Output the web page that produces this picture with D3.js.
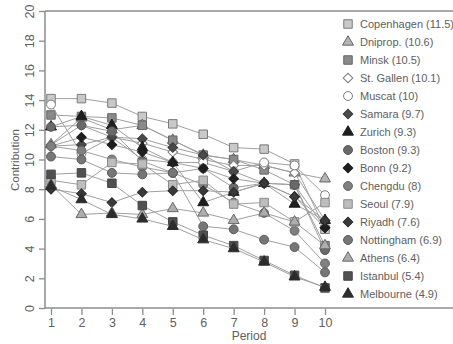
<!DOCTYPE html>
<html>
<head>
<meta charset="utf-8">
<script src="https://cdn.jsdelivr.net/npm/d3@7"></script>
<style>
  html, body { margin: 0; padding: 0; background: #fff; }
  svg { display: block; font-family: "Liberation Sans", Arial, sans-serif; }
</style>
</head>
<body>
<div id="chart"></div>
<script>
// periods on the x axis
const periods = [1, 2, 3, 4, 5, 6, 7, 8, 9, 10];
const yTicks = [0, 2, 4, 6, 8, 10, 12, 14, 16, 18, 20];

// series, in legend order (name, mean shown in legend)
const cities = ['Copenhagen', 'Dniprop.', 'Minsk', 'St. Gallen', 'Muscat', 'Samara', 'Zurich', 'Boston',
  'Bonn', 'Chengdu', 'Seoul', 'Riyadh', 'Nottingham', 'Athens', 'Istanbul', 'Melbourne'];
const means = ['11.5', '10.6', '10.5', '10.1', '10', '9.7', '9.3', '9.3', '9.2', '8', '7.9', '7.6', '6.9', '6.4', '5.4', '4.9'];

const copenhagen = [14.1, 14.1, 13.8, 12.9, 12.4, 11.7, 10.8, 10.7, 9.7, 5.3];
const dniprop    = [11.0, 12.8, 12.0, 12.3, 11.3, 10.3, 10.0, 9.6, 9.1, 8.7];
const minsk      = [13.0, 12.9, 12.8, 12.3, 11.3, 10.3, 10.0, 9.3, 8.3, 4.2];
const stGallen   = [11.0, 12.3, 11.5, 11.1, 10.5, 10.0, 9.6, 9.6, 9.1, 5.9];
const muscat     = [13.7, 10.4, 11.5, 10.0, 9.8, 9.8, 9.2, 9.8, 9.6, 7.6];
const samara     = [10.9, 11.0, 11.5, 11.4, 10.8, 10.3, 9.2, 8.4, 8.3, 5.4];
const zurich     = [12.2, 12.9, 12.3, 10.8, 9.8, 7.1, 7.8, 8.4, 7.0, 5.9];
const boston     = [12.2, 12.3, 11.9, 9.9, 9.1, 9.4, 8.1, 8.4, 8.3, 3.9];
const bonn       = [10.9, 11.5, 11.0, 10.5, 9.8, 9.4, 8.7, 8.4, 7.5, 5.4];
const chengdu    = [10.9, 10.6, 10.0, 9.5, 9.1, 8.3, 7.1, 6.4, 5.2, 3.0];
const seoul      = [8.6, 8.3, 9.8, 9.7, 8.3, 8.6, 7.0, 7.1, 5.8, 7.1];
const riyadh     = [8.0, 7.7, 7.1, 7.8, 7.9, 7.9, 7.8, 8.4, 7.5, 5.9];
const nottingham = [10.2, 10.0, 9.1, 9.0, 9.1, 5.5, 5.3, 4.6, 4.1, 2.4];
const athens     = [8.3, 6.3, 6.4, 6.3, 6.7, 6.4, 5.9, 6.4, 5.8, 4.2];
const istanbul   = [9.0, 9.1, 8.4, 6.9, 5.8, 4.9, 4.2, 3.2, 2.2, 1.35];
const melbourne  = [8.2, 7.3, 6.3, 6.0, 5.5, 4.6, 4.0, 3.1, 2.1, 1.4];

const values = [copenhagen, dniprop, minsk, stGallen, muscat, samara, zurich, boston,
  bonn, chengdu, seoul, riyadh, nottingham, athens, istanbul, melbourne];

// marker shape and grey fill for each series
const shapes = ['square', 'triangle', 'square', 'diamond', 'circle', 'diamond', 'triangle', 'circle',
  'diamond', 'circle', 'square', 'diamond', 'circle', 'triangle', 'square', 'triangle'];
const fills = ['#c9c9c9', '#b4b4b4', '#8a8a8a', '#ffffff', '#ffffff', '#4a4a4a', '#1e1e1e', '#6a6a6a',
  '#1e1e1e', '#808080', '#bdbdbd', '#3a3a3a', '#767676', '#adadad', '#505050', '#2c2c2c'];
const strokes = ['#7a7a7a', '#666', '#666', '#7a7a7a', '#7a7a7a', '#3a3a3a', '#1e1e1e', '#555',
  '#1e1e1e', '#666', '#888', '#2a2a2a', '#5a5a5a', '#6a6a6a', '#444', '#2c2c2c'];

const width = 453;
const height = 344;

const svg = d3.select('#chart')
  .append('svg')
  .attr('width', width)
  .attr('height', height);

const x = d3.scaleLinear().domain([1, 10]).range([51, 325]);
const y = d3.scaleLinear().domain([0, 20]).range([308, 11]);

const axisColor = '#8c8c8c';
const textColor = '#606060';

function symbolPath(shape) {
  if (shape === 'square') return d3.symbol(d3.symbolSquare, 72)();
  if (shape === 'triangle') return d3.symbol(d3.symbolTriangle, 52)();
  if (shape === 'diamond') return d3.symbol(d3.symbolSquare, 46)();
  return d3.symbol(d3.symbolCircle, 62)();
}

function drawMarker(g, shape, cx, cy, fill, stroke) {
  g.append('path')
    .attr('d', symbolPath(shape))
    .attr('transform', `translate(${cx},${cy})` + (shape === 'diamond' ? ' rotate(45)' : ''))
    .attr('fill', fill)
    .attr('stroke', stroke)
    .attr('stroke-width', 1);
}

// frame: top, left, bottom
svg.append('line')
  .attr('x1', x(1) - 6).attr('x2', width).attr('y1', y(20)).attr('y2', y(20))
  .attr('stroke', axisColor).attr('stroke-width', 1.5);
svg.append('line')
  .attr('x1', x(1) - 6).attr('x2', x(1) - 6).attr('y1', y(20)).attr('y2', y(0))
  .attr('stroke', axisColor).attr('stroke-width', 1.5);
svg.append('line')
  .attr('x1', x(1) - 6).attr('x2', width).attr('y1', y(0)).attr('y2', y(0))
  .attr('stroke', axisColor).attr('stroke-width', 1.5);

// y axis
const yAxis = svg.append('g')
  .attr('transform', `translate(${x(1) - 6},0)`)
  .call(d3.axisLeft(y).tickValues(yTicks).tickSize(6).tickPadding(6));
yAxis.select('.domain').remove();
yAxis.selectAll('line').attr('stroke', axisColor).attr('stroke-width', 1.3);
yAxis.selectAll('text')
  .attr('fill', textColor)
  .attr('font-size', 12.5)
  .attr('text-anchor', 'middle')
  .attr('dy', null)
  .attr('x', null)
  .attr('transform', 'translate(-11,0) rotate(-90)');

// x axis
const xAxis = svg.append('g')
  .attr('transform', `translate(0,${y(0) + 1})`)
  .call(d3.axisBottom(x).tickValues(periods).tickFormat(d3.format('d')).tickSize(6).tickPadding(3));
xAxis.select('.domain').remove();
xAxis.selectAll('line').attr('stroke', axisColor).attr('stroke-width', 1.3);
xAxis.selectAll('text').attr('fill', textColor).attr('font-size', 12.5);

// axis titles
svg.append('text')
  .attr('x', 249).attr('y', 340)
  .attr('text-anchor', 'middle')
  .attr('fill', textColor)
  .attr('font-size', 12)
  .text('Period');

svg.append('text')
  .attr('transform', 'translate(19,160) rotate(-90)')
  .attr('text-anchor', 'middle')
  .attr('fill', textColor)
  .attr('font-size', 11.5)
  .text('Contribution');

// series: line then markers
const line = d3.line()
  .x((d, i) => x(periods[i]))
  .y(d => y(d));

const plot = svg.append('g');
values.forEach((vals, s) => {
  plot.append('path')
    .datum(vals)
    .attr('fill', 'none')
    .attr('stroke', '#a0a0a0')
    .attr('stroke-width', 1)
    .attr('d', line);
  vals.forEach((v, i) => drawMarker(plot, shapes[s], x(periods[i]), y(v), fills[s], strokes[s]));
});

// legend
const legend = svg.append('g');
cities.forEach((name, i) => {
  const ly = 24 + i * 18;
  drawMarker(legend, shapes[i], 348, ly, fills[i], strokes[i]);
  legend.append('text')
    .attr('x', 360).attr('y', ly + 4)
    .attr('fill', textColor)
    .attr('font-size', 11)
    .text(`${name} (${means[i]})`);
});
</script>
</body>
</html>
